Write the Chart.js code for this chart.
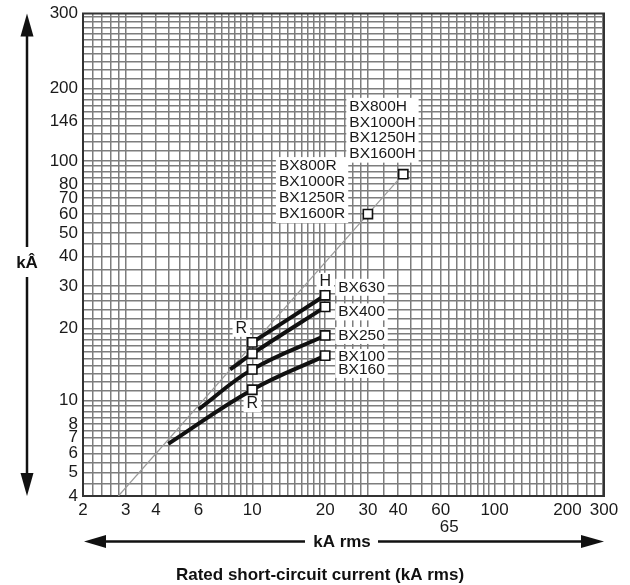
<!DOCTYPE html>
<html><head><meta charset="utf-8">
<script src="https://cdn.jsdelivr.net/npm/chart.js@4.4.1/dist/chart.umd.min.js"></script>
<style>html,body{margin:0;padding:0;background:#fff;}</style>
</head><body>
<canvas id="c" width="630" height="585" style="width:630px;height:585px;display:block"></canvas>
<script>
// ---- axis ranges (grid paper runs a little past the edge labels "300") ----
const xMin = 2, xMax = 283;
const yMin = 4, yMax = 412;

// ---- labelled ticks ----
const xTickValues = [2, 3, 4, 6, 10, 20, 30, 40, 60, 65, 100, 200, 283];
const xTickLabels = ['2', '3', '4', '6', '10', '20', '30', '40', '60', ['', '65'], '100', '200', '300'];
const yTickValues = [4, 5, 6, 7, 8, 10, 20, 30, 40, 50, 60, 70, 80, 100, 146, 200, 412];
const yTickLabels = ['4', '5', '6', '7', '8', '10', '20', '30', '40', '50', '60', '70', '80', '100', '146', '200', '300'];

// ---- log-paper grid spacing per band ----
const gridBreaks = [2, 3, 10, 20, 30, 100, 200, 1000];
const gridSteps  = [0.2, 0.5, 1, 2, 5, 10, 20];

// ---- series ----
const diagX = [2.8, 42];
const diagY = [4, 88];
const bx630X = [10, 20];
const bx630Y = [17.5, 27.5];
const bx400X = [8.1, 10, 20];
const bx400Y = [13.5, 15.7, 24.6];
const bx250X = [6.0, 10, 20];
const bx250Y = [9.2, 13.5, 18.7];
const bx100X = [4.5, 10, 20];
const bx100Y = [6.6, 11.1, 15.4];
const markerX = [10, 10, 10, 10, 20, 20, 20, 20, 30, 42];
const markerY = [17.5, 15.7, 13.5, 11.1, 27.5, 24.6, 18.7, 15.4, 60, 88];

function gridValues(min, max) {
  const out = [];
  for (let i = 0; i < gridSteps.length; i++) {
    const a = gridBreaks[i], b = gridBreaks[i + 1], s = gridSteps[i];
    for (let k = 0; ; k++) {
      const v = Math.round((a + k * s) * 1000) / 1000;
      if (v >= b - 1e-9 || v > max + 1e-9) break;
      if (v >= min - 1e-9) out.push(v);
    }
  }
  return out;
}
const xGrid = gridValues(xMin, xMax);
const yGrid = gridValues(yMin, yMax);
function tickSet(grid, labelled) {
  return Array.from(new Set(grid.concat(labelled))).sort((a, b) => a - b);
}
const xAll = tickSet(xGrid, xTickValues);
const yAll = tickSet(yGrid, yTickValues);

const pts = (xs, ys) => xs.map((x, i) => ({x: x, y: ys[i]}));

const FONT = "'Liberation Sans', Arial, sans-serif";
const GRID = '#7d7d7d';
const INK = '#111';

// text annotations anchored to data points (offsets in px)
const notes = [
  {t: ['BX630'], x: 20, y: 27.5, dx: 13, dy: -8, lh: 15, align: 'left'},
  {t: ['BX400'], x: 20, y: 24.6, dx: 13, dy: 5, lh: 15, align: 'left'},
  {t: ['BX250'], x: 20, y: 18.7, dx: 13, dy: 0, lh: 15, align: 'left'},
  {t: ['BX100', 'BX160'], x: 20, y: 15.4, dx: 13, dy: 1, lh: 13.5, align: 'left'},
  {t: ['BX800R', 'BX1000R', 'BX1250R', 'BX1600R'], x: 30, y: 60, dx: -89, dy: -48, lh: 16, align: 'left'},
  {t: ['BX800H', 'BX1000H', 'BX1250H', 'BX1600H'], x: 42, y: 88, dx: -54, dy: -67.5, lh: 15.7, align: 'left'},
  {t: ['R'], x: 10, y: 17.5, dx: -11, dy: -14, lh: 15, align: 'center', size: 16},
  {t: ['R'], x: 10, y: 11.1, dx: 0, dy: 14, lh: 15, align: 'center', size: 16},
  {t: ['H'], x: 20, y: 27.5, dx: 0, dy: -14, lh: 15, align: 'center', size: 16}
];

const deco = {
  id: 'deco',
  beforeDatasetsDraw(chart) {
    const ctx = chart.ctx, xs = chart.scales.x, ys = chart.scales.y, ca = chart.chartArea;
    ctx.save();
    ctx.strokeStyle = '#333';
    ctx.lineWidth = 2;
    ctx.strokeRect(ca.left, ca.top, ca.right - ca.left, ca.bottom - ca.top);
    ctx.textBaseline = 'middle';
    notes.forEach(n => {
      const size = n.size || 15.5;
      ctx.font = size + 'px ' + FONT;
      const px = xs.getPixelForValue(n.x) + n.dx;
      const py = ys.getPixelForValue(n.y) + n.dy;
      let w = 0;
      n.t.forEach(s => { w = Math.max(w, ctx.measureText(s).width); });
      const left = n.align === 'center' ? px - w / 2 : px;
      const top = py - n.lh / 2;
      ctx.fillStyle = '#fff';
      ctx.fillRect(left - 3, top - 1, w + 6, n.lh * n.t.length + 2);
      ctx.fillStyle = '#1a1a1a';
      ctx.textAlign = n.align;
      n.t.forEach((s, i) => ctx.fillText(s, px, py + i * n.lh));
    });
    ctx.restore();
  },
  afterDraw(chart) {
    const ctx = chart.ctx, ca = chart.chartArea;
    ctx.save();
    ctx.fillStyle = INK;
    ctx.strokeStyle = INK;
    ctx.lineWidth = 2.5;
    const ax = 27;
    ctx.beginPath(); ctx.moveTo(ax, ca.top + 22); ctx.lineTo(ax, 247); ctx.stroke();
    ctx.beginPath(); ctx.moveTo(ax, ca.top); ctx.lineTo(ax - 6.5, ca.top + 23); ctx.lineTo(ax + 6.5, ca.top + 23); ctx.closePath(); ctx.fill();
    ctx.beginPath(); ctx.moveTo(ax, 277); ctx.lineTo(ax, ca.bottom - 22); ctx.stroke();
    ctx.beginPath(); ctx.moveTo(ax, ca.bottom); ctx.lineTo(ax - 6.5, ca.bottom - 23); ctx.lineTo(ax + 6.5, ca.bottom - 23); ctx.closePath(); ctx.fill();
    const ay = 541.5;
    ctx.beginPath(); ctx.moveTo(ca.left + 21, ay); ctx.lineTo(305, ay); ctx.stroke();
    ctx.beginPath(); ctx.moveTo(ca.left + 1, ay); ctx.lineTo(ca.left + 23, ay - 6.5); ctx.lineTo(ca.left + 23, ay + 6.5); ctx.closePath(); ctx.fill();
    ctx.beginPath(); ctx.moveTo(378, ay); ctx.lineTo(ca.right - 21, ay); ctx.stroke();
    ctx.beginPath(); ctx.moveTo(ca.right, ay); ctx.lineTo(ca.right - 23, ay - 6.5); ctx.lineTo(ca.right - 23, ay + 6.5); ctx.closePath(); ctx.fill();
    ctx.fillStyle = '#111';
    ctx.textAlign = 'center';
    ctx.textBaseline = 'middle';
    ctx.font = 'bold 17px ' + FONT;
    ctx.fillText('kÂ', ax, 263);
    ctx.fillText('kA rms', 342, 542);
    ctx.font = 'bold 17px ' + FONT;
    ctx.fillText('Rated short-circuit current (kA rms)', 320, 575);
    ctx.restore();
  }
};

const lineDs = (xs, ys) => ({
  data: pts(xs, ys), showLine: true, borderColor: INK, borderWidth: 4,
  pointRadius: 0, tension: 0.4, fill: false, order: 1
});

new Chart(document.getElementById('c'), {
  type: 'scatter',
  data: {
    datasets: [
      {data: pts(markerX, markerY), showLine: false, pointStyle: 'rect', pointRadius: 6.5,
       pointBackgroundColor: '#fff', pointBorderColor: INK, pointBorderWidth: 1.6, order: 0},
      lineDs(bx630X, bx630Y),
      lineDs(bx400X, bx400Y),
      lineDs(bx250X, bx250Y),
      lineDs(bx100X, bx100Y),
      {data: pts(diagX, diagY), showLine: true, borderColor: '#9a9a9a', borderWidth: 1.2,
       pointRadius: 0, fill: false, order: 2}
    ]
  },
  options: {
    responsive: false,
    animation: false,
    events: [],
    layout: {padding: {top: 10, right: 26, left: 0, bottom: 0}},
    plugins: {legend: {display: false}, tooltip: {enabled: false}},
    scales: {
      x: {
        type: 'logarithmic', min: xMin, max: xMax,
        afterFit: s => { s.height = 89; },
        afterBuildTicks: s => { s.ticks = xAll.map(v => ({value: v})); },
        border: {display: false},
        grid: {drawTicks: false, lineWidth: 1.5,
               color: c => (c.tick && xGrid.includes(c.tick.value)) ? GRID : 'rgba(0,0,0,0)'},
        ticks: {
          autoSkip: false, maxRotation: 0, minRotation: 0, padding: 5,
          color: '#1a1a1a', font: {family: FONT, size: 17, lineHeight: 1.05},
          callback: v => { const i = xTickValues.indexOf(v); return i >= 0 ? xTickLabels[i] : ''; }
        }
      },
      y: {
        type: 'logarithmic', min: yMin, max: yMax,
        afterFit: s => { s.width = 83; },
        afterBuildTicks: s => { s.ticks = yAll.map(v => ({value: v})); },
        border: {display: false},
        grid: {drawTicks: false, lineWidth: 1.5,
               color: c => (c.tick && yGrid.includes(c.tick.value)) ? GRID : 'rgba(0,0,0,0)'},
        ticks: {
          autoSkip: false, padding: 5,
          color: '#1a1a1a', font: {family: FONT, size: 17, lineHeight: 1.0},
          callback: v => { const i = yTickValues.indexOf(v); return i >= 0 ? yTickLabels[i] : ''; }
        }
      }
    }
  },
  plugins: [deco]
});
</script>
</body></html>
